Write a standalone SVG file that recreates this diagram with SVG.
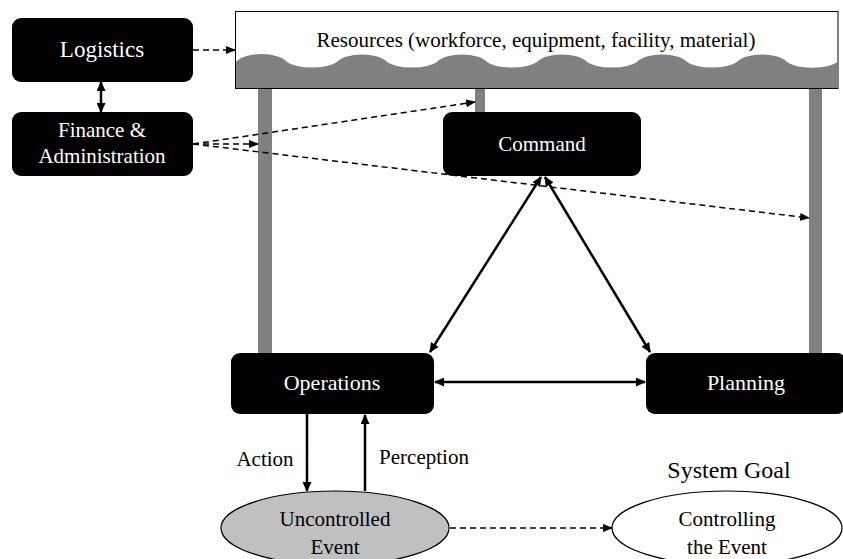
<svg xmlns="http://www.w3.org/2000/svg" width="843" height="559" viewBox="0 0 843 559" font-family="'Liberation Serif', 'Times New Roman', 'DejaVu Serif', serif">
<style>
text{font-size:21px;text-anchor:middle}
.box{fill:#000}
.wt{fill:#fff}
.post{fill:#808080}
.solid{stroke:#000;stroke-width:2.5;fill:none}
.dash{stroke:#000;stroke-width:1.5;fill:none;stroke-dasharray:6 4}
.ell{stroke:#000;stroke-width:1.2}
</style>
<defs>
<marker id="ah" viewBox="0 0 10 9" refX="9" refY="4.5" markerWidth="10" markerHeight="9" markerUnits="userSpaceOnUse" orient="auto-start-reverse">
<path d="M0,0 L10,4.5 L0,9 z" fill="#000"/>
</marker>
<marker id="ahs" viewBox="0 0 10 8" refX="9" refY="4" markerWidth="10" markerHeight="8" markerUnits="userSpaceOnUse" orient="auto-start-reverse">
<path d="M0,0 L10,4 L0,8 z" fill="#000"/>
</marker>
</defs>
<rect width="843" height="559" fill="#fff"/>

<g id="resources">
<rect x="258" y="88" width="14" height="265" class="post"/>
<rect x="475" y="88" width="10" height="25" class="post"/>
<rect x="809" y="88" width="13" height="265" class="post"/>
<rect x="235.5" y="11.5" width="602.5" height="77" fill="#fff" stroke="#000" stroke-width="1"/>
<path class="post" d="M236,88 L236,62 A27,12 0 0 1 287,62 A28,10 0 0 0 337,62 A27,12 0 0 1 387,62 A28,10 0 0 0 437,62 A27,12 0 0 1 487,62 A28,10 0 0 0 537,62 A27,12 0 0 1 587,62 A28,10 0 0 0 637,62 A27,12 0 0 1 687,62 A28,10 0 0 0 737,62 A27,12 0 0 1 787,62 A28,10 0 0 0 837.5,62 L837.5,88 Z"/>
<text x="536" y="47">Resources (workforce, equipment, facility, material)</text>
</g>

<g id="logistics">
<rect x="12" y="18" width="181" height="64" rx="9" class="box"/>
<text x="102" y="57" class="wt" style="font-size:23px">Logistics</text>
</g>

<g id="finance">
<rect x="12" y="112" width="181" height="64" rx="9" class="box"/>
<text x="102" y="137" class="wt">Finance &amp;</text>
<text x="102" y="163" class="wt">Administration</text>
</g>

<g id="command">
<rect x="443" y="112" width="198" height="64" rx="9" class="box"/>
<text x="542" y="151" class="wt">Command</text>
</g>

<g id="operations">
<rect x="231" y="353" width="203" height="61" rx="9" class="box"/>
<text x="332" y="390" class="wt" style="font-size:22px">Operations</text>
</g>

<g id="planning">
<rect x="646" y="353" width="200" height="61" rx="9" class="box"/>
<text x="746" y="390" class="wt" style="font-size:22px">Planning</text>
</g>

<g id="uncontrolled">
<ellipse cx="335" cy="528" rx="114" ry="37" fill="#c0c0c0" class="ell"/>
<text x="335" y="526">Uncontrolled</text>
<text x="335" y="554">Event</text>
</g>

<g id="controlling">
<text x="729" y="478" style="font-size:24px">System Goal</text>
<ellipse cx="727" cy="528" rx="115" ry="37" fill="#fff" class="ell"/>
<text x="727" y="526">Controlling</text>
<text x="727" y="554">the Event</text>
</g>

<g id="connectors">
<line x1="101" y1="82" x2="101" y2="112" class="solid" marker-start="url(#ah)" marker-end="url(#ah)"/>
<line x1="193" y1="50" x2="235" y2="50" class="dash" marker-end="url(#ahs)"/>
<line x1="193" y1="144" x2="258" y2="144" class="dash" marker-end="url(#ahs)"/>
<line x1="193" y1="144" x2="475" y2="102" class="dash" marker-end="url(#ahs)"/>
<line x1="193" y1="144" x2="809" y2="218" class="dash" marker-end="url(#ahs)"/>
<line x1="541" y1="177" x2="430" y2="352" class="solid" marker-start="url(#ah)" marker-end="url(#ah)"/>
<line x1="545" y1="177" x2="650" y2="352" class="solid" marker-start="url(#ah)" marker-end="url(#ah)"/>
<line x1="435" y1="382" x2="645" y2="382" class="solid" marker-start="url(#ah)" marker-end="url(#ah)"/>
<line x1="307" y1="414" x2="307" y2="491" class="solid" marker-end="url(#ah)"/>
<line x1="365" y1="491" x2="365" y2="415" class="solid" marker-end="url(#ah)"/>
<line x1="450" y1="528" x2="612" y2="528" class="dash" marker-end="url(#ahs)"/>
<text x="265" y="466">Action</text>
<text x="424" y="464">Perception</text>
</g>
</svg>
